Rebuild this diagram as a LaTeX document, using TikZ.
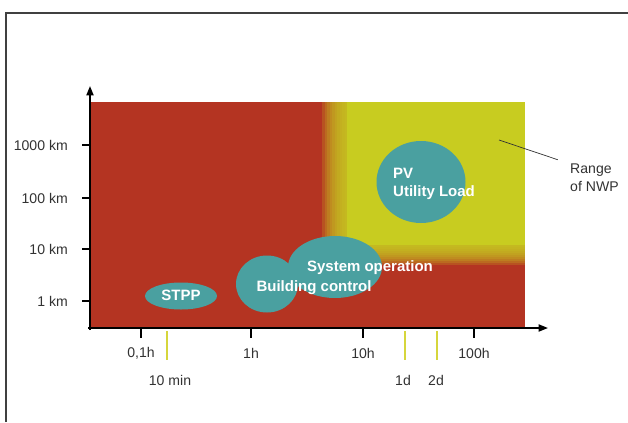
\documentclass[tikz,border=0pt]{standalone}
\usepackage{fontspec}
\setmainfont{Liberation Sans}
\usepackage{tikz}
\usetikzlibrary{arrows.meta}
\usetikzlibrary{shapes.geometric}
\usepackage{xcolor}

\definecolor{fieldred}{RGB}{180,52,34}
\definecolor{nwpyellow}{RGB}{200,204,32}
\definecolor{blobteal}{RGB}{74,160,160}
\definecolor{labelgrey}{RGB}{50,50,50}
\definecolor{markyellow}{RGB}{214,214,60}

\tikzset{
  blob/.style={shape=ellipse, fill=blobteal, inner sep=0pt},
  axlabel/.style={text=labelgrey, font=\fontsize{12}{15.4}\selectfont, inner sep=0pt},
  blobtext/.style={text=white, font=\fontsize{12.8}{15.4}\selectfont\bfseries, inner sep=0pt},
  axisline/.style={line width=1.5pt, -{Triangle[length=8pt,width=6pt]}},
  tickline/.style={line width=1.5pt},
  markline/.style={markyellow, line width=1.2pt}
}

\begin{document}
\begin{tikzpicture}[x=0.03cm,y=-0.03cm]
        \useasboundingbox (0,0) rectangle (628,422);
        \draw[line width=0.9pt, black!75] (6,422) -- (6,13) -- (628,13);

        % red field with the yellow NWP corner
        \fill[fieldred] (90,102) rectangle (525,328);
        \foreach \i in {0,...,9}
            \fill[nwpyellow, opacity=0.2] ({322+2.5*\i},{265-2*\i}) rectangle (525,102);
        \fill[nwpyellow] (347,245) rectangle (525,102);

        % axes
        \coordinate (origin) at (90,330);
        \coordinate (ytop) at (90,86);
        \coordinate (xstart) at (88,328);
        \coordinate (xend) at (548,328);
        \draw[axisline] (origin) -- (ytop);
        \draw[axisline] (xstart) -- (xend);

        \foreach \yy/\lab in {145/1000 km, 198/100 km, 249/10 km, 301/1 km} {
            \draw[tickline] (82,\yy) -- (90,\yy);
            \node[axlabel, anchor=east] (ylab\yy) at (68,\yy) {\lab};
        }
        \foreach \xx/\lab in {141/{0,1h}, 251/1h, 363/10h, 474/100h} {
            \draw[tickline] (\xx,328) -- (\xx,338);
            \node[axlabel] (xlab\xx) at (\xx,353) {\lab};
        }

        \draw[markline] (167,331) -- (167,360);
        \draw[markline] (405,331) -- (405,360);
        \draw[markline] (437,331) -- (437,360);
        \node[axlabel] (tenmin) at (170,380) {10 min};
        \node[axlabel] (oneday) at (403,380) {1d};
        \node[axlabel] (twoday) at (436,380) {2d};

        % application areas
        \node[blob, minimum width=2.16cm, minimum height=0.81cm] (stpp) at (181,296) {};
        \node[blob, minimum width=1.86cm, minimum height=1.71cm] (bldg) at (267,284) {};
        \node[blob, minimum width=2.82cm, minimum height=1.86cm] (sysop) at (335,267) {};
        \node[blob, minimum width=2.67cm, minimum height=2.46cm] (pv) at (421,182) {};

        \node[blobtext] (stpptext) at (181,295) {STPP};
        \node[blobtext] (sysoptext) at (370,268) {System operation};
        \node[blobtext] (bldgtext) at (314,288) {Building control};
        \node[blobtext, align=left, anchor=west] (pvtext) at (393,184) {PV\\Utility Load};

        % NWP label
        \node[axlabel, align=left, anchor=west] (nwplabel) at (570,178) {Range\\of NWP};
        \coordinate (nwppoint) at (499,140);
        \draw[labelgrey, line width=0.6pt, shorten >=11pt] (nwppoint) -- (nwplabel.north west);
\end{tikzpicture}
\end{document}
